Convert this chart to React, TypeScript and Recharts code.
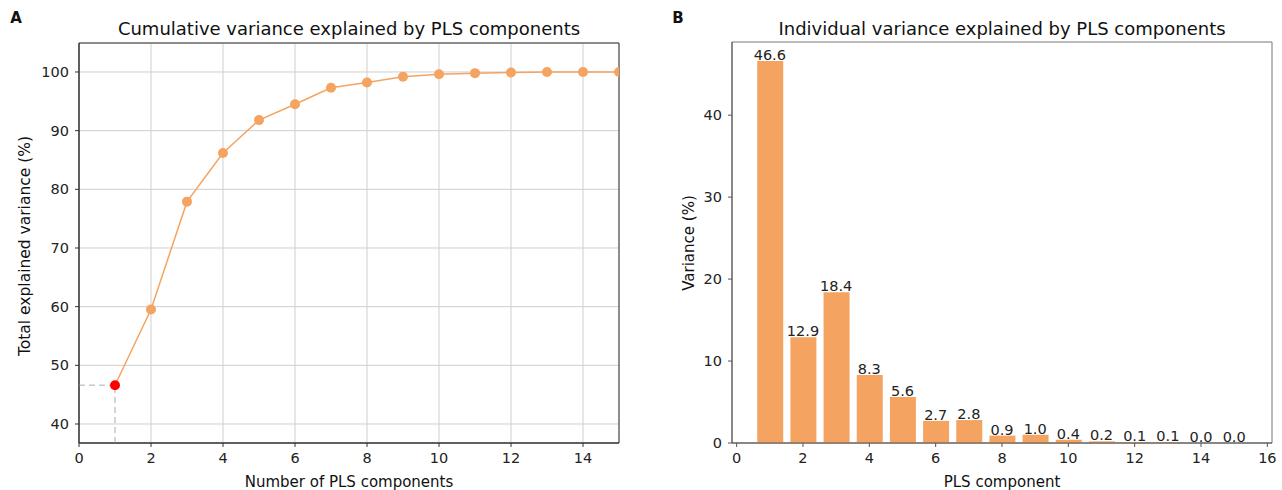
import React from "react";
import {
  ComposedChart,
  Bar,
  Line,
  XAxis,
  YAxis,
  CartesianGrid,
  ReferenceLine,
  ReferenceArea,
  LabelList
} from "recharts";

const components = [1, 2, 3, 4, 5, 6, 7, 8, 9, 10, 11, 12, 13, 14, 15];
const cumulative = [46.6, 59.5, 77.9, 86.2, 91.8, 94.5, 97.3, 98.2, 99.2, 99.6, 99.8, 99.9, 100.0, 100.0, 100.0];
const individual = [46.6, 12.9, 18.4, 8.3, 5.6, 2.7, 2.8, 0.9, 1.0, 0.4, 0.2, 0.1, 0.1, 0.0, 0.0];

const cumXTicks = [0, 2, 4, 6, 8, 10, 12, 14];
const cumYTicks = [40, 50, 60, 70, 80, 90, 100];
const barXTicks = [0, 2, 4, 6, 8, 10, 12, 14, 16];
const barYTicks = [0, 10, 20, 30, 40];

const ORANGE = "#F4A460";
const FONT = "'DejaVu Sans', sans-serif";
const tickStyle = { fill: "#222", fontSize: 14.5, fontFamily: FONT };

const cumData = components.map((c, i) => ({ n: c, cum: cumulative[i] }));
const barData = components.map((c, i) => ({ n: c, v: individual[i] }));

// free text placed by its centre
const text = (
  content: string,
  x: number,
  y: number,
  size: number,
  bold = false,
  rotate = false
) => (
  <div
    style={{
      position: "absolute",
      left: x,
      top: y,
      transform: "translate(-50%, -50%)" + (rotate ? " rotate(-90deg)" : ""),
      whiteSpace: "nowrap",
      fontFamily: FONT,
      fontSize: size,
      fontWeight: bold ? "bold" : "normal",
      lineHeight: 1,
      color: "#111"
    }}
  >
    {content}
  </div>
);

const CumDot = (props: any) => {
  const { cx, cy, index } = props;
  return (
    <circle
      key={"d" + index}
      cx={cx}
      cy={cy}
      r={5}
      fill={index === 0 ? "#ff0000" : ORANGE}
      stroke="none"
    />
  );
};

export default function App() {
  return (
    <div
      style={{
        position: "absolute",
        left: 0,
        top: 0,
        width: 1282,
        height: 490,
        background: "#fff"
      }}
    >
      <div style={{ position: "absolute", left: 0, top: 0 }}>
        <ComposedChart
          width={640}
          height={490}
          data={cumData}
          margin={{ top: 43, right: 21, bottom: 17, left: 19 }}
        >
          <CartesianGrid stroke="#cfcfcf" strokeWidth={1} />
          <XAxis
            dataKey="n"
            type="number"
            domain={[0, 15]}
            ticks={cumXTicks}
            allowDataOverflow
            height={30}
            tick={tickStyle}
            tickSize={4}
            tickMargin={6}
            stroke="#333"
          />
          <YAxis
            type="number"
            domain={[36.76, 104.94]}
            ticks={cumYTicks}
            allowDataOverflow
            width={60}
            tick={tickStyle}
            tickSize={4}
            tickMargin={6}
            stroke="#333"
          />
          <ReferenceArea
            x1={0}
            x2={15}
            y1={36.76}
            y2={104.94}
            fill="none"
            stroke="#333"
            strokeWidth={1}
          />
          <ReferenceLine
            segment={[
              { x: 0, y: cumulative[0] },
              { x: components[0], y: cumulative[0] }
            ]}
            stroke="#c8c8c8"
            strokeDasharray="6 4"
            strokeWidth={1.5}
          />
          <ReferenceLine
            segment={[
              { x: components[0], y: 36.76 },
              { x: components[0], y: cumulative[0] }
            ]}
            stroke="#c8c8c8"
            strokeDasharray="6 4"
            strokeWidth={1.5}
          />
          <Line
            type="linear"
            dataKey="cum"
            stroke={ORANGE}
            strokeWidth={1.5}
            dot={CumDot}
            activeDot={false}
            isAnimationActive={false}
          />
        </ComposedChart>
      </div>

      <div style={{ position: "absolute", left: 640, top: 0 }}>
        <ComposedChart
          width={642}
          height={490}
          data={barData}
          margin={{ top: 42, right: 10, bottom: 17, left: 42 }}
        >
          <XAxis
            dataKey="n"
            type="number"
            domain={[-0.14, 16.14]}
            ticks={barXTicks}
            allowDataOverflow
            height={30}
            tick={tickStyle}
            tickSize={4}
            tickMargin={6}
            stroke="#555"
          />
          <YAxis
            type="number"
            domain={[0, 48.93]}
            ticks={barYTicks}
            allowDataOverflow
            width={50}
            tick={tickStyle}
            tickSize={4}
            tickMargin={6}
            stroke="#555"
          />
          <ReferenceArea
            x1={-0.14}
            x2={16.14}
            y1={0}
            y2={48.93}
            fill="none"
            stroke="#777"
            strokeWidth={1}
          />
          <Bar dataKey="v" fill={ORANGE} barSize={26} isAnimationActive={false} />
          {/* invisible line only carries the value labels, so 0.0 bars get one too */}
          <Line
            type="linear"
            dataKey="v"
            stroke="none"
            dot={false}
            activeDot={false}
            isAnimationActive={false}
          >
            <LabelList
              dataKey="v"
              position="top"
              offset={1}
              formatter={(v: any) => Number(v).toFixed(1)}
              style={{ fill: "#222", fontSize: 14.5, fontFamily: FONT }}
            />
          </Line>
        </ComposedChart>
      </div>

      {text("A", 16, 18, 15, true)}
      {text("Cumulative variance explained by PLS components", 349, 29, 18)}
      {text("Number of PLS components", 349, 482, 15)}
      {text("Total explained variance (%)", 26, 246, 15.5, false, true)}

      {text("B", 678, 18, 15, true)}
      {text("Individual variance explained by PLS components", 1002, 29, 18)}
      {text("PLS component", 1002, 482, 15)}
      {text("Variance (%)", 689, 243, 15, false, true)}
    </div>
  );
}
